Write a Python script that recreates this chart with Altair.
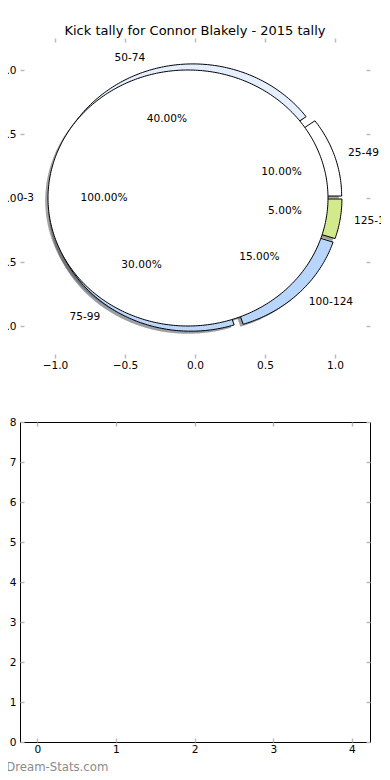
import altair as alt
import numpy as np
import pandas as pd

# ---------------- data ----------------
title_text = "Kick tally for Connor Blakely - 2015 tally"
watermark = "Dream-Stats.com"

disk_label = ["0-3"]
disk_pct = [100.0]
disk_color = ["#ffffff"]

cat_labels = ["25-49", "50-74", "75-99", "100-124", "125-149"]
cat_pcts = [10.0, 40.0, 30.0, 15.0, 5.0]
cat_colors = ["#ffffff", "#e6efff", "#bcd7fc", "#b8d6fc", "#d3ea8c"]

explode = 0.05
pie_ticks = [-1.0, -0.5, 0.0, 0.5, 1.0]
bottom_x_ticks = [0, 1, 2, 3, 4]
bottom_y_ticks = [0, 1, 2, 3, 4, 5, 6, 7, 8]

FONT = "DejaVu Sans"
FS = 10.6
TICK_COLOR = "#bbbbbb"


def shade(hex_color):
    h = hex_color.lstrip("#")
    r, g, b = (int(h[i:i + 2], 16) for i in (0, 2, 4))
    return "#%02x%02x%02x" % (int(r * 0.3), int(g * 0.3), int(b * 0.3))


def wedge_rows(key, cx, cy, a0, a1, fill, full=False, dx=0.0, dy=0.0):
    n = max(int(round(abs(a1 - a0))), 2)
    ang = np.radians(np.linspace(a0, a1, n + 1))
    pts = [(cx + np.cos(a), cy + np.sin(a)) for a in ang]
    if not full:
        pts = [(cx, cy)] + pts + [(cx, cy)]
    return [dict(key=key, i=k, x=px + dx, y=py + dy, fill=fill)
            for k, (px, py) in enumerate(pts)]


wedges, shadows, texts_l, texts_r, texts_c = [], [], [], [], []

# category pie (drawn first, under the disk)
start = 0.0
for lab, p, col in zip(cat_labels, cat_pcts, cat_colors):
    span = 360.0 * p / 100.0
    mid = np.radians(start + span / 2)
    cx, cy = explode * np.cos(mid), explode * np.sin(mid)
    wedges += wedge_rows(lab, cx, cy, start, start + span, col)
    shadows += wedge_rows("s" + lab, cx, cy, start, start + span, shade(col), dx=-0.02, dy=-0.02)
    xt, yt = cx + 1.1 * np.cos(mid), cy + 1.1 * np.sin(mid)
    (texts_l if xt > 0 else texts_r).append(dict(x=xt, y=yt, t=lab))
    texts_c.append(dict(x=cx + 0.6 * np.cos(mid), y=cy + 0.6 * np.sin(mid), t="%.2f%%" % p))
    start += span

# single-slice pie on top
disk = []
for lab, p, col in zip(disk_label, disk_pct, disk_color):
    span = 360.0 * p / 100.0
    mid = np.radians(span / 2)
    cx, cy = explode * np.cos(mid), explode * np.sin(mid)
    disk += wedge_rows(lab, cx, cy, 0, span, col, full=True)
    shadows += wedge_rows("s" + lab, cx, cy, 0, span, shade(col), full=True, dx=-0.02, dy=-0.02)
    xt, yt = cx + 1.1 * np.cos(mid), cy + 1.1 * np.sin(mid)
    (texts_l if xt > 0 else texts_r).append(dict(x=xt, y=round(yt, 6), t=lab))
    texts_c.append(dict(x=cx + 0.6 * np.cos(mid), y=round(cy + 0.6 * np.sin(mid), 6), t="%.2f%%" % p))

# ---------------- top (pie) panel ----------------
psx = alt.Scale(domain=[-1.25, 1.25], nice=False, zero=False)
psy = alt.Scale(domain=[-1.25, 1.25], nice=False, zero=False)


def tick_axis(orient, values, labels=True, fmt=None, pad=3):
    kw = dict(orient=orient, values=values, domain=False, grid=False, ticks=True,
              tickSize=4, offset=-4, tickColor=TICK_COLOR, tickWidth=1.5,
              labels=labels, labelFont=FONT, labelFontSize=FS, labelColor="black",
              labelPadding=pad, labelFlush=False, title=None)
    if fmt:
        kw["format"] = fmt
    return alt.Axis(**kw)


shadow_layer = alt.Chart(pd.DataFrame(shadows)).mark_line(
    strokeOpacity=0, fillOpacity=0.5
).encode(
    x=alt.X("x:Q", scale=psx, axis=tick_axis("bottom", pie_ticks, fmt=".1f", pad=2)),
    y=alt.Y("y:Q", scale=psy, axis=tick_axis("left", pie_ticks, fmt=".1f", pad=4)),
    order="i:Q", detail="key:N", fill=alt.Fill("fill:N", scale=None),
)

wedge_layer = alt.Chart(pd.DataFrame(wedges)).mark_line(
    stroke="black", strokeWidth=1
).encode(
    x=alt.X("x:Q", scale=psx, axis=tick_axis("top", pie_ticks, labels=False)),
    y=alt.Y("y:Q", scale=psy, axis=tick_axis("right", pie_ticks, labels=False)),
    order="i:Q", detail="key:N", fill=alt.Fill("fill:N", scale=None),
)

disk_layer = alt.Chart(pd.DataFrame(disk)).mark_line(
    stroke="black", strokeWidth=1
).encode(
    x=alt.X("x:Q", scale=psx, axis=None),
    y=alt.Y("y:Q", scale=psy, axis=None),
    order="i:Q", detail="key:N", fill=alt.Fill("fill:N", scale=None),
)


def text_layer(rows, align):
    return alt.Chart(pd.DataFrame(rows)).mark_text(
        align=align, baseline="middle", font=FONT, fontSize=FS, color="black"
    ).encode(
        x=alt.X("x:Q", scale=psx, axis=None),
        y=alt.Y("y:Q", scale=psy, axis=None),
        text="t:N",
    )


top = alt.layer(
    shadow_layer, wedge_layer, disk_layer,
    text_layer(texts_l, "left"), text_layer(texts_r, "right"), text_layer(texts_c, "center"),
).resolve_axis(x="independent", y="independent").properties(
    width=350, height=320,
    view=alt.ViewBackground(stroke="transparent"),
    title=alt.TitleParams(title_text, font=FONT, fontSize=13, fontWeight="normal",
                          color="black", anchor="middle", offset=-1),
)

# ---------------- bottom (empty) panel ----------------
bsx = alt.Scale(domain=[-0.22, 4.23], nice=False, zero=False)
bsy = alt.Scale(domain=[0, 8], nice=False, zero=False)
empty = pd.DataFrame({"x": pd.Series([], dtype=float), "y": pd.Series([], dtype=float)})

b1 = alt.Chart(empty).mark_point(opacity=0).encode(
    x=alt.X("x:Q", scale=bsx, axis=tick_axis("bottom", bottom_x_ticks, fmt="d", pad=2)),
    y=alt.Y("y:Q", scale=bsy, axis=tick_axis("left", bottom_y_ticks, fmt="d", pad=4)),
)
b2 = alt.Chart(empty).mark_point(opacity=0).encode(
    x=alt.X("x:Q", scale=bsx, axis=tick_axis("top", bottom_x_ticks, labels=False)),
    y=alt.Y("y:Q", scale=bsy, axis=tick_axis("right", bottom_y_ticks, labels=False)),
)
bottom = alt.layer(b1, b2).resolve_axis(x="independent", y="independent").properties(
    width=350, height=320,
    view=alt.ViewBackground(stroke="black", strokeWidth=1),
    title=alt.TitleParams(watermark, orient="bottom", anchor="start", dx=-3, offset=7,
                          font=FONT, fontSize=11.7, fontWeight="normal", color="#8a8a8a"),
)

chart = alt.vconcat(top, bottom, spacing=64, bounds="flush").properties(
    padding={"left": -19, "top": 16, "right": -18, "bottom": -3}
).configure(background="white")

chart.save("out.html", embed_options={"renderer": "svg", "actions": False})
